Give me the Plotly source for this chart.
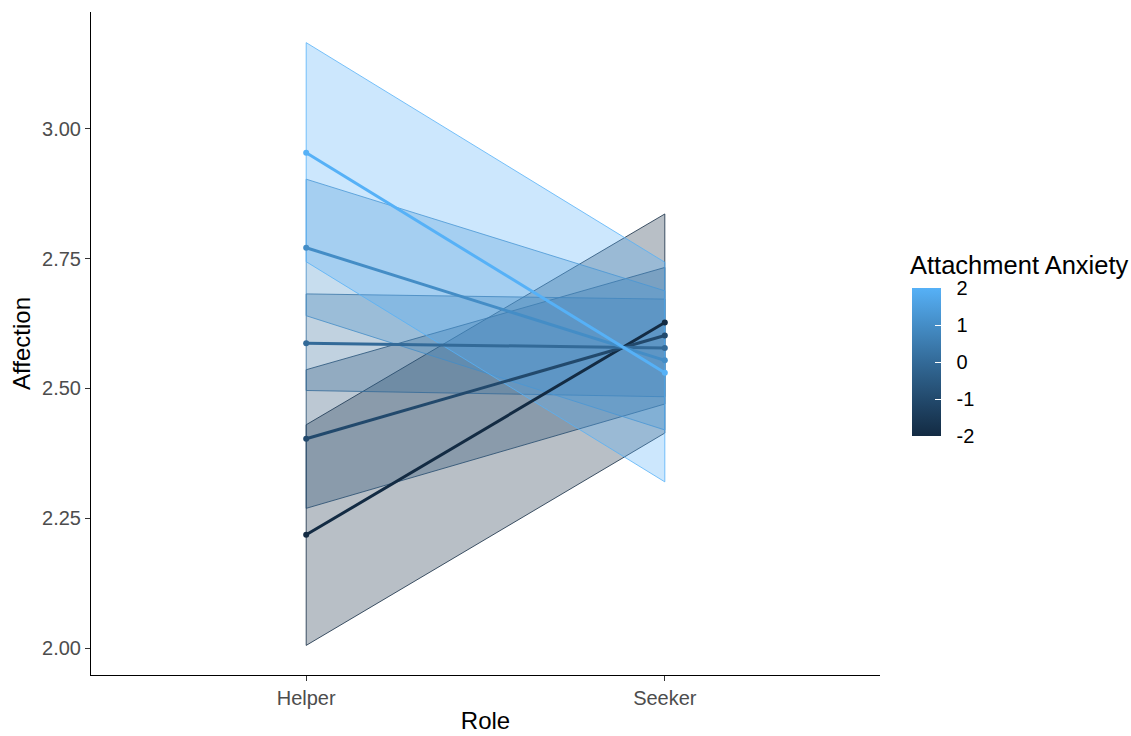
import plotly.graph_objects as go

# Model-implied affection by role at five levels of attachment anxiety
roles = ["Helper", "Seeker"]
anxiety_levels = [-2, -1, 0, 1, 2]
affection_helper = [2.218, 2.403, 2.587, 2.771, 2.954]
affection_seeker = [2.627, 2.602, 2.578, 2.554, 2.530]
lower_helper = [2.005, 2.269, 2.496, 2.640, 2.744]
upper_helper = [2.430, 2.536, 2.682, 2.903, 3.166]
lower_seeker = [2.414, 2.470, 2.484, 2.420, 2.320]
upper_seeker = [2.836, 2.733, 2.672, 2.688, 2.743]
y_ticks = [2.0, 2.25, 2.5, 2.75, 3.0]
y_tick_labels = ["2.00", "2.25", "2.50", "2.75", "3.00"]

LOW, HIGH = "#132B43", "#56B1F7"


def hex_to_rgb(h):
    h = h.lstrip("#")
    return [int(h[i:i + 2], 16) / 255 for i in (0, 2, 4)]


def srgb_to_lin(c):
    return c / 12.92 if c <= 0.04045 else ((c + 0.055) / 1.055) ** 2.4


def lin_to_srgb(c):
    c = max(0.0, min(1.0, c))
    return 12.92 * c if c <= 0.0031308 else 1.055 * c ** (1 / 2.4) - 0.055


def rgb_to_lab(rgb):
    r, g, b = [srgb_to_lin(c) for c in rgb]
    x = (0.4124 * r + 0.3576 * g + 0.1805 * b) / 0.95047
    y = 0.2126 * r + 0.7152 * g + 0.0722 * b
    z = (0.0193 * r + 0.1192 * g + 0.9505 * b) / 1.08883
    f = lambda t: t ** (1 / 3) if t > 0.008856 else 7.787 * t + 16 / 116
    fx, fy, fz = f(x), f(y), f(z)
    return [116 * fy - 16, 500 * (fx - fy), 200 * (fy - fz)]


def lab_to_rgb(lab):
    L, a, b = lab
    fy = (L + 16) / 116
    fx = fy + a / 500
    fz = fy - b / 200
    finv = lambda t: t ** 3 if t ** 3 > 0.008856 else (t - 16 / 116) / 7.787
    x, y, z = finv(fx) * 0.95047, finv(fy), finv(fz) * 1.08883
    r = 3.2406 * x - 1.5372 * y - 0.4986 * z
    g = -0.9689 * x + 1.8758 * y + 0.0415 * z
    bb = 0.0557 * x - 0.2040 * y + 1.0570 * z
    return [round(lin_to_srgb(c) * 255) for c in (r, g, bb)]


LAB_LOW, LAB_HIGH = rgb_to_lab(hex_to_rgb(LOW)), rgb_to_lab(hex_to_rgb(HIGH))


def grad(t):
    return lab_to_rgb([a + (b - a) * t for a, b in zip(LAB_LOW, LAB_HIGH)])


def level_colour(v, alpha=1.0):
    r, g, b = grad((v + 2) / 4)
    return f"rgba({r},{g},{b},{alpha})"


FONT = "Liberation Sans, Arial, sans-serif"
fig = go.Figure()

# confidence ribbons
for i, lvl in enumerate(anxiety_levels):
    fig.add_trace(go.Scatter(
        x=[roles[0], roles[1], roles[1], roles[0], roles[0]],
        y=[lower_helper[i], lower_seeker[i], upper_seeker[i], upper_helper[i], lower_helper[i]],
        mode="lines", fill="toself",
        fillcolor=level_colour(lvl, 0.3),
        line=dict(color=level_colour(lvl), width=0.8),
        hoverinfo="skip", showlegend=False,
    ))

# fitted lines with end points
for i, lvl in enumerate(anxiety_levels):
    fig.add_trace(go.Scatter(
        x=roles, y=[affection_helper[i], affection_seeker[i]],
        mode="lines+markers",
        line=dict(color=level_colour(lvl), width=3),
        marker=dict(color=level_colour(lvl), size=6),
        showlegend=False,
    ))

# colour bar for attachment anxiety
stops = [k / 10 for k in range(11)]
colorscale = [[s, "rgb({},{},{})".format(*grad(s))] for s in stops]
fig.add_trace(go.Scatter(
    x=[roles[0]], y=[None], mode="markers",
    marker=dict(
        color=[0], cmin=-2, cmax=2, colorscale=colorscale, showscale=True,
        colorbar=dict(
            tickvals=anxiety_levels,
            ticktext=["\u00a0\u00a0" + str(v) for v in anxiety_levels],
            ticks="inside", tickcolor="white", ticklen=6,
            tickfont=dict(size=20, color="black", family=FONT),
            thickness=29, thicknessmode="pixels",
            len=148, lenmode="pixels",
            x=1.0406, xanchor="left", xpad=0,
            y=0.5837, yanchor="top", ypad=0,
            outlinewidth=0,
        ),
    ),
    hoverinfo="skip", showlegend=False,
))

fig.add_annotation(
    text="Attachment Anxiety", xref="paper", yref="paper",
    x=1.0355, xanchor="left", y=0.6184, yanchor="middle",
    showarrow=False, font=dict(size=25.5, color="black", family=FONT),
)

fig.update_layout(
    width=1131, height=736,
    margin=dict(l=91, r=251, t=12, b=61),
    paper_bgcolor="white", plot_bgcolor="white",
    font=dict(family=FONT),
    xaxis=dict(
        type="category", categoryorder="array", categoryarray=roles,
        range=[-0.6, 1.6], showline=True, linecolor="black", linewidth=1,
        ticks="outside", ticklen=5, tickcolor="#333333", showgrid=False,
        zeroline=False, tickfont=dict(size=20, color="#4D4D4D"),
        automargin=False,
        title=dict(text="Role", font=dict(size=24, color="black"), standoff=4),
    ),
    yaxis=dict(
        range=[1.948, 3.225], tickvals=y_ticks, ticktext=y_tick_labels,
        showline=True, linecolor="black", linewidth=1,
        ticks="outside", ticklen=5, tickcolor="#333333", showgrid=False,
        zeroline=False, tickfont=dict(size=20, color="#4D4D4D"),
        automargin=False,
        title=dict(text="Affection", font=dict(size=24, color="black"), standoff=4),
    ),
)

fig.write_html("out.html")
